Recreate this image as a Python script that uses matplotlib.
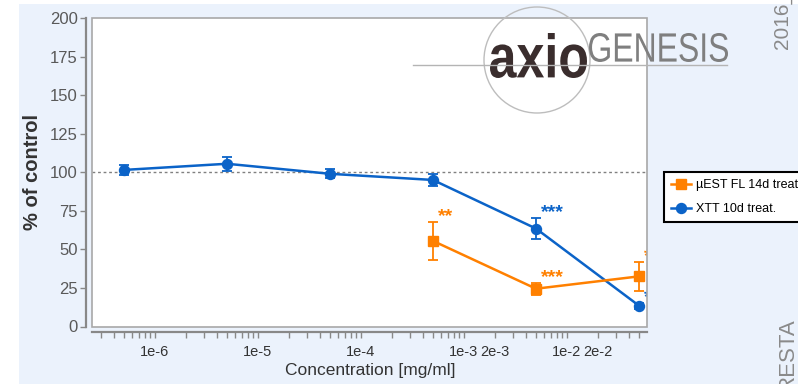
import matplotlib
matplotlib.use('Agg')
from matplotlib import pyplot as plt
from matplotlib.patches import Rectangle, Circle, PathPatch
from matplotlib.textpath import TextPath
from matplotlib.font_manager import FontProperties
from matplotlib.transforms import Affine2D
from matplotlib.ticker import FixedLocator, FixedFormatter, LogLocator

plt.rcParams['font.family'] = ['Liberation Sans', 'DejaVu Sans']

# XTT viability, 10 day treatment
conc = [5e-7, 5e-6, 5e-5, 5e-4, 5e-3, 5e-2]
xtt = [101.5, 105.5, 99.0, 95.0, 63.5, 13.5]
xtt_err = [3.0, 4.5, 3.0, 4.0, 7.0, 2.0]
xtt_stars = ['', '', '', '', '***', '*']

# uEST FL, 14 day treatment
uest_conc = [5e-4, 5e-3, 5e-2]
uest = [55.5, 24.5, 32.5]
uest_err = [12.5, 4.0, 9.5]
uest_stars = ['**', '***', '*']

xtick_vals = [1e-6, 1e-5, 1e-4, 1e-3, 2e-3, 1e-2, 2e-2]
xtick_labels = ['1e-6', '1e-5', '1e-4', '1e-3', '2e-3', '1e-2', '2e-2']
ytick_vals = [0, 25, 50, 75, 100, 125, 150, 175, 200]

BLUE = '#0B63C8'
ORANGE = '#FF8000'
W, H = 798, 384

fig = plt.figure(figsize=(W / 100, H / 100), dpi=100)
fig.patches.append(Rectangle((19 / W, 0), 1 - 19 / W, 1 - 4 / H, transform=fig.transFigure,
                             facecolor='#EBF2FC', edgecolor='none', zorder=-1))

ax = fig.add_axes([92 / W, 1 - 326.5 / H, (647 - 92) / W, (326.5 - 18) / H])
ax.set_facecolor('white')
for side in ['top', 'right']:
    ax.spines[side].set_visible(False)
for side in ['left', 'bottom']:
    ax.spines[side].set_position(('outward', 4.3))
    ax.spines[side].set_color('#888888')
    ax.spines[side].set_linewidth(1.6)
ax.add_patch(Rectangle((0, 0), 1, 1, transform=ax.transAxes, fill=False,
                       edgecolor='#A8A8A8', lw=1.2, clip_on=False, zorder=4))

ax.set_xscale('log')
ax.set_xlim(2.45e-7, 0.0598)
ax.set_ylim(0, 200)
ax.xaxis.set_major_locator(FixedLocator(xtick_vals))
ax.xaxis.set_major_formatter(FixedFormatter(xtick_labels))
ax.xaxis.set_minor_locator(LogLocator(base=10, subs=range(2, 10), numticks=20))
ax.set_yticks(ytick_vals)
ax.tick_params(axis='both', which='both', direction='out', length=4, width=1, color='#888888')
ax.tick_params(axis='x', which='major', labelsize=10.5, labelcolor='#333333', pad=5)
ax.tick_params(axis='y', labelsize=12, labelcolor='#595959', pad=2)

ax.axhline(100, color='#808080', lw=1, ls=(0, (2, 2)), zorder=1)

xtt_line = ax.errorbar(conc, xtt, yerr=xtt_err, color=BLUE, marker='o', ms=7.2, lw=1.8,
                       elinewidth=1.3, capsize=3.8, capthick=1.3, zorder=3)
uest_line = ax.errorbar(uest_conc, uest, yerr=uest_err, color=ORANGE, marker='s', ms=7.8, lw=1.8,
                        elinewidth=1.3, capsize=3.8, capthick=1.3, zorder=3)

# significance marks above the error bars
for xs, ys, es, marks, col in [(conc, xtt, xtt_err, xtt_stars, BLUE),
                               (uest_conc, uest, uest_err, uest_stars, ORANGE)]:
    for x, y, e, m in zip(xs, ys, es, marks):
        if m:
            ax.annotate(m, (x, y + e), xytext=(3.8, 9.5), textcoords='offset points',
                        ha='left', va='top', color=col, fontsize=14, fontweight='bold',
                        annotation_clip=False, clip_on=True)

fig.text(33 / W, 1 - 172 / H, '% of control', rotation=90, ha='center', va='center',
         fontsize=14.5, fontweight='bold', color='#333333')
fig.text(370 / W, 1 - 370 / H, 'Concentration [mg/ml]', ha='center', va='center',
         fontsize=12.5, color='#333333')

leg = fig.legend([uest_line[0], xtt_line[0]], ['µEST FL 14d treat.', 'XTT 10d treat.'],
                 loc='upper left', bbox_to_anchor=(664 / W, 1 - 172 / H), borderaxespad=0,
                 fontsize=9, frameon=True, fancybox=False, edgecolor='black', framealpha=1,
                 handlelength=1.6, handletextpad=0.4, borderpad=0.55, labelspacing=1.0)
leg.get_frame().set_linewidth(1.5)

# logo and side texts drawn in pixel coordinates on top
lax = fig.add_axes([0, 0, 1, 1], zorder=5)
lax.set_xlim(0, W)
lax.set_ylim(H, 0)
lax.axis('off')
lax.patch.set_visible(False)

lax.add_patch(Circle((537, 60), 53, fill=False, edgecolor='#BDBDBD', lw=1))
lax.plot([413, 727], [65, 65], color='#B4B4B4', lw=1)


def logo_word(text, left, top, right, base, color, weight):
    fp = FontProperties(family='Liberation Sans', weight=weight)
    path = TextPath((0, 0), text, size=1, prop=fp)
    ext = path.get_extents()
    tr = (Affine2D().translate(-ext.x0, -ext.y0)
          .scale((right - left) / ext.width, -(base - top) / ext.height)
          .translate(left, base))
    lax.add_patch(PathPatch(tr.transform_path(path), facecolor=color, edgecolor='none'))


logo_word('axio', 490, 33, 587, 78, '#3A2D2D', 'bold')
logo_word('GENESIS', 589, 33, 728, 62, '#7F7F7F', 'normal')

lax.text(788, 49, '2016_', rotation=90, rotation_mode='anchor', ha='left', va='baseline',
         fontsize=15, color='#8A8A8A')
lax.text(793, 318, 'RESTA', rotation=90, rotation_mode='anchor', ha='right', va='baseline',
         fontsize=16, color='#8A8A8A')

fig.savefig('out.png', dpi=100)
